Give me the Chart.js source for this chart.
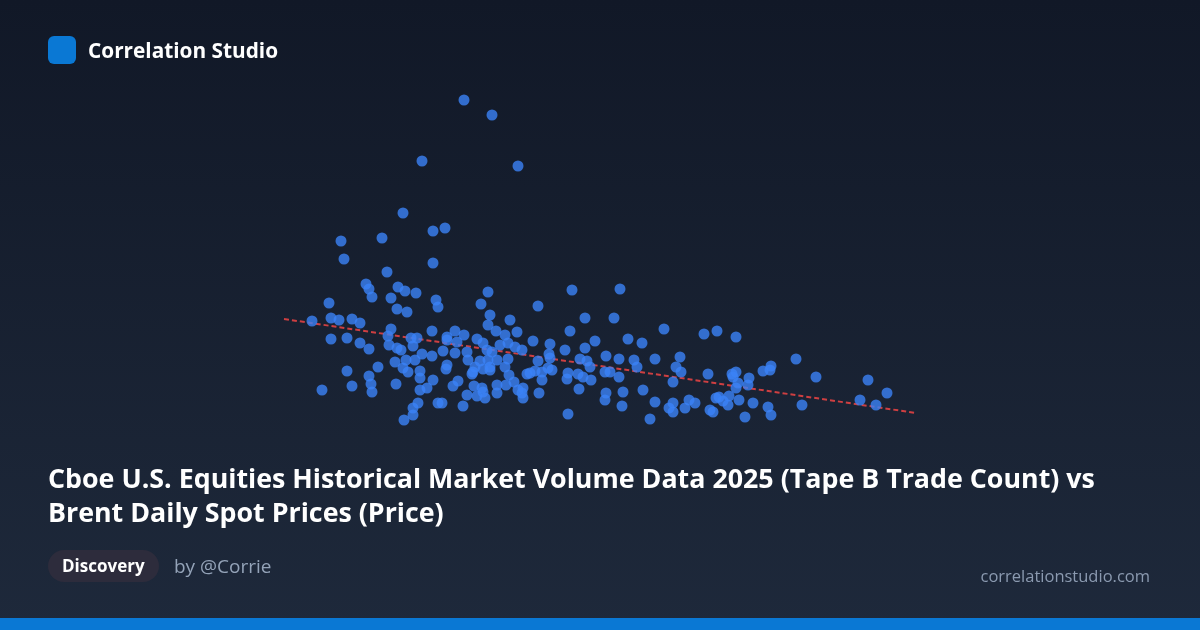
<!DOCTYPE html>
<html>
<head>
<meta charset="utf-8">
<title>Correlation Studio</title>
<script src="https://cdn.jsdelivr.net/npm/chart.js@4.4.1/dist/chart.umd.min.js"></script>
<style>
  html, body { margin: 0; padding: 0; }
  body {
    width: 1200px; height: 630px; overflow: hidden; position: relative;
    background: linear-gradient(180deg, #111827 0%, #1e293b 100%);
    font-family: "Open Sans", "Noto Sans", sans-serif;
  }
  #plot { position: absolute; left: 0; top: 0; }
  .brand { position: absolute; left: 48px; top: 36px; height: 28px; display: flex; align-items: center; }
  .brand .logo { width: 28px; height: 28px; border-radius: 6px; background: #0a78d4; }
  .brand span { margin-left: 12px; color: #fff; font-weight: 700; font-size: 20.8px; }
  h1 {
    position: absolute; left: 48px; top: 461px; width: 1130px; margin: 0;
    color: #fff; font-size: 26.8px; line-height: 34px; font-weight: 700;
  }
  .pill {
    position: absolute; left: 48px; top: 550px; height: 32px; padding: 0 14px;
    border-radius: 16px; background: #2d2c3c; color: #fff;
    font-weight: 700; font-size: 17px; line-height: 32px;
  }
  .by { position: absolute; left: 174px; top: 550px; line-height: 32px; color: #94a3b8; font-size: 19px; }
  .site { position: absolute; right: 50px; top: 560px; line-height: 32px; color: #8b9ab0; font-size: 16.5px; }
  .bar { position: absolute; left: 0; bottom: 0; width: 1200px; height: 12px; background: #0a78d4; }
</style>
</head>
<body>
<canvas id="plot" width="1200" height="630"></canvas>

<div class="brand"><div class="logo"></div><span>Correlation Studio</span></div>
<h1>Cboe U.S. Equities Historical Market Volume Data 2025 (Tape B Trade Count) vs<br>Brent Daily Spot Prices (Price)</h1>
<div class="pill">Discovery</div>
<div class="by">by @Corrie</div>
<div class="site">correlationstudio.com</div>
<div class="bar"></div>

<script>
// Tape B trade count (millions) per day
const tapeBTrades = [
  4.64, 4.92, 4.22, 5.18, 4.03, 4.33, 4.45, 3.41, 3.82, 3.44, 4.33, 3.87, 3.66, 3.69, 3.72,
  3.98, 4.05, 4.16, 3.91, 4.36, 4.38, 3.97, 4.07, 3.29, 4.88, 4.81, 5.72, 6.20, 5.38,
  3.12, 3.31, 3.39, 3.52, 3.60, 3.31, 3.47, 3.60, 3.69, 3.47, 3.52, 3.22, 3.69, 3.71, 3.72,
  3.91, 3.88, 4.11, 4.17, 4.32, 4.13, 3.89, 3.97, 4.01, 4.22, 4.32, 4.06, 4.15, 3.95, 3.78,
  4.03, 4.08, 4.20, 4.20, 4.33, 3.96, 4.20, 4.27, 4.18, 4.13, 4.13, 4.04, 4.38,
  4.90, 4.88, 4.96, 5.10, 4.55, 4.64, 4.47, 4.47, 4.57, 4.77, 4.83, 5.05, 5.00, 4.43, 4.55,
  4.67, 4.87, 4.92, 5.08, 4.68, 4.80, 4.88, 4.97, 5.08, 4.47, 4.46, 4.75, 4.83, 4.90, 4.73,
  4.72, 4.90, 5.05, 5.09, 5.06, 4.58, 4.53, 4.74, 4.82, 4.83, 4.97, 4.97, 4.67, 4.77, 4.85,
  4.42, 4.63,
  5.70, 5.17, 5.33, 5.50, 5.15, 5.22, 5.65, 5.49, 5.38, 5.50, 5.80, 5.48, 5.35, 5.30, 5.27,
  5.42, 5.42, 5.52, 5.68, 5.67, 5.78, 5.14, 5.23, 5.18, 5.22, 5.23, 5.39, 5.79, 5.68,
  5.85, 6.14, 6.64, 5.95, 6.28, 6.42, 5.85, 6.06, 6.19, 6.34, 6.37, 6.55, 5.87, 5.90, 5.83,
  6.05, 6.10, 6.19, 5.91, 6.06, 6.05, 6.23, 6.22, 6.43, 6.55, 6.76, 6.73, 6.73, 6.69, 6.73,
  6.50, 6.80, 6.81,
  7.04, 7.17, 7.36, 7.08, 7.32, 7.36, 7.33, 7.38, 7.36, 7.48, 7.49, 7.63, 7.71, 7.70, 7.96,
  6.89, 6.85, 6.95, 7.16, 7.19, 7.23, 7.29, 7.28, 7.39, 7.53, 7.10, 7.13, 7.45, 7.68, 7.71,
  8.02,
  8.16, 8.68, 8.87, 8.60, 8.76
];

// Brent spot price (USD) on the same days
const brentPrice = [
  84.0, 82.5, 77.9, 77.4, 72.7, 70.9, 71.2, 69.9, 70.2, 68.1, 67.7, 66.8, 65.6, 65.1, 64.3,
  65.3, 64.9, 64.7, 64.2, 64.0, 63.3, 63.1, 62.8, 63.7, 64.8, 63.6, 65.0, 65.1, 63.4,
  61.9, 62.2, 62.0, 62.1, 61.7, 60.1, 60.2, 59.7, 59.1, 56.9, 55.4, 55.0, 56.4, 55.6, 54.8,
  61.1, 60.4, 60.2, 60.2, 60.9, 59.4, 59.5, 59.2, 59.0, 58.6, 58.4, 58.0, 58.0, 57.8, 57.3,
  57.2, 56.8, 56.9, 56.2, 56.0, 55.6, 55.0, 55.2, 53.7, 53.2, 52.5, 52.0, 53.7,
  62.5, 61.5, 60.9, 62.0, 60.9, 60.5, 60.3, 60.0, 59.8, 60.1, 59.7, 60.5, 59.5, 58.9, 58.7,
  58.8, 59.0, 58.8, 59.7, 58.0, 57.9, 58.0, 58.0, 58.1, 57.5, 57.1, 57.3, 57.1, 57.0, 56.8,
  56.6, 57.3, 57.3, 56.5, 55.5, 55.9, 55.4, 55.4, 55.2, 54.8, 55.5, 54.7, 54.5, 54.4, 54.2,
  53.7, 53.4,
  60.9, 60.8, 59.9, 59.6, 59.3, 59.0, 59.0, 58.6, 57.9, 58.2, 58.1, 57.2, 56.9, 56.7, 56.6,
  56.8, 56.0, 57.0, 56.7, 56.1, 56.6, 55.8, 55.2, 55.0, 54.7, 54.2, 54.7, 55.1, 52.6,
  62.2, 62.2, 61.1, 59.9, 60.1, 59.7, 59.2, 58.4, 58.1, 58.0, 57.3, 58.1, 57.9, 57.3, 56.3,
  56.8, 56.8, 56.3, 56.0, 54.7, 54.0, 54.8, 53.4, 55.0, 53.8, 57.3, 55.8, 53.7, 53.2, 52.8,
  52.1, 58.3, 56.8,
  60.6, 60.9, 60.3, 56.6, 56.6, 56.8, 56.3, 55.7, 55.2, 55.5, 56.2, 56.9, 57.4, 57.0, 58.1,
  54.0, 53.2, 53.7, 54.2, 54.3, 53.9, 54.4, 53.5, 54.0, 53.7, 53.0, 52.8, 52.3, 53.3, 52.5,
  53.5,
  56.3, 56.0, 54.7, 54.0, 53.5
];

// trend line ends
const trendX = [2.84, 9.16];
const trendY = [62.1, 52.7];

const points = tapeBTrades.map((x, i) => ({ x: x, y: brentPrice[i] }));
const trend = trendX.map((x, i) => ({ x: x, y: trendY[i] }));

const ctx = document.getElementById('plot');
new Chart(ctx, {
  type: 'scatter',
  data: {
    datasets: [
      {
        data: points,
        backgroundColor: 'rgba(59, 130, 246, 0.8)',
        borderWidth: 0,
        pointRadius: 5.5,
        order: 1
      },
      {
        type: 'line',
        data: trend,
        borderColor: 'rgba(239, 68, 68, 0.85)',
        borderWidth: 2,
        borderDash: [5, 3],
        pointRadius: 0,
        fill: false,
        order: 2
      }
    ]
  },
  options: {
    responsive: false,
    animation: false,
    events: [],
    layout: { padding: 0, autoPadding: false },
    scales: {
      x: { type: 'linear', min: 0, max: 12, display: false },
      y: { min: 31, max: 94, display: false }
    },
    plugins: {
      legend: { display: false },
      tooltip: { enabled: false }
    }
  }
});
</script>
</body>
</html>
